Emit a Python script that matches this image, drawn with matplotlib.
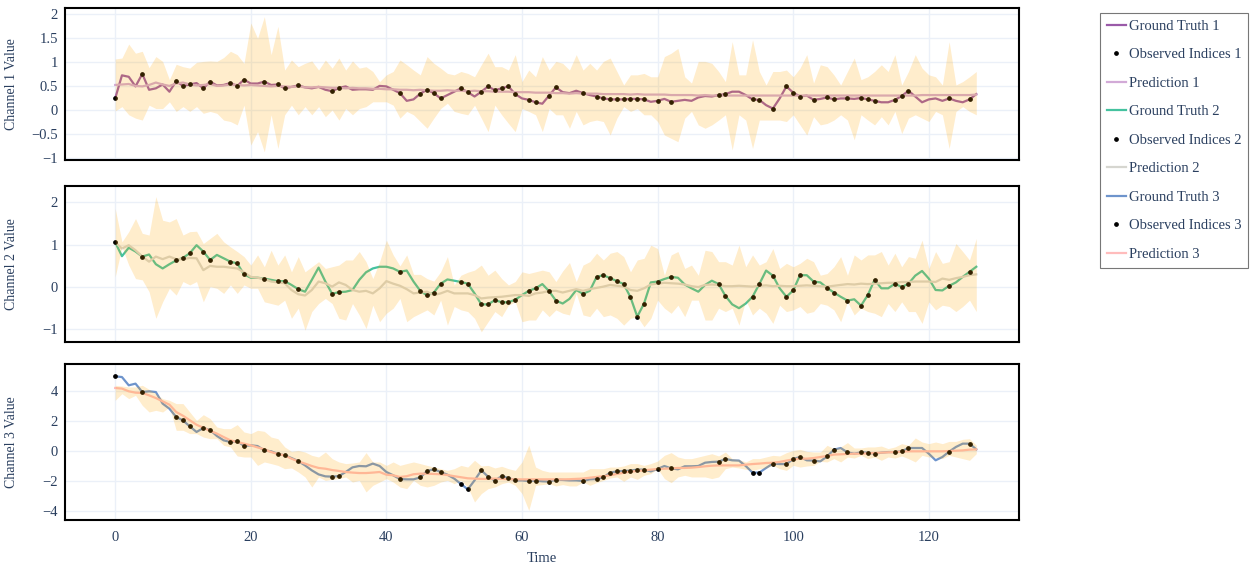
import numpy as np
import matplotlib
matplotlib.use("Agg")
from matplotlib import pyplot as plt
from matplotlib.ticker import FuncFormatter

plt.rcParams['font.family'] = ['Liberation Serif', 'DejaVu Serif']

time = np.arange(128)

# indices where the ground truth is observed (same for all channels)
observed_idx = [0, 4, 9, 10, 11, 13, 14, 17, 18, 19, 22, 24, 25, 27, 32, 33, 42, 45,
                46, 47, 48, 51, 52, 54, 55, 56, 57, 58, 59, 61, 62, 64, 65, 69, 71, 72,
                73, 74, 75, 76, 77, 78, 80, 82, 89, 90, 94, 95, 97, 99, 100, 101, 103,
                105, 106, 108, 110, 111, 112, 115, 116, 117, 123, 126]

# channel 1
gt1 = [0.24, 0.72, 0.69, 0.49, 0.75, 0.42, 0.45, 0.53, 0.38, 0.60,
       0.50, 0.53, 0.56, 0.45, 0.59, 0.51, 0.52, 0.56, 0.50, 0.63,
       0.55, 0.55, 0.59, 0.52, 0.53, 0.45, 0.48, 0.51, 0.47, 0.45,
       0.48, 0.42, 0.39, 0.46, 0.49, 0.42, 0.43, 0.43, 0.42, 0.50,
       0.49, 0.42, 0.35, 0.19, 0.22, 0.34, 0.42, 0.35, 0.24, 0.31,
       0.38, 0.45, 0.37, 0.28, 0.38, 0.49, 0.41, 0.45, 0.49, 0.33,
       0.24, 0.21, 0.16, 0.13, 0.30, 0.47, 0.37, 0.35, 0.40, 0.35,
       0.31, 0.28, 0.24, 0.22, 0.22, 0.22, 0.23, 0.23, 0.22, 0.17,
       0.19, 0.23, 0.17, 0.19, 0.21, 0.19, 0.26, 0.29, 0.28, 0.31,
       0.33, 0.38, 0.38, 0.31, 0.22, 0.21, 0.10, 0.03, 0.24, 0.49,
       0.36, 0.28, 0.30, 0.21, 0.23, 0.26, 0.22, 0.24, 0.24, 0.23,
       0.25, 0.22, 0.19, 0.16, 0.16, 0.21, 0.29, 0.40, 0.28, 0.16,
       0.22, 0.24, 0.19, 0.24, 0.19, 0.16, 0.22, 0.33]
pred1 = [0.52, 0.53, 0.54, 0.50, 0.49, 0.52, 0.57, 0.53, 0.50, 0.55,
         0.57, 0.53, 0.51, 0.52, 0.54, 0.50, 0.51, 0.53, 0.52, 0.51,
         0.52, 0.51, 0.50, 0.49, 0.50, 0.49, 0.48, 0.49, 0.47, 0.47,
         0.48, 0.47, 0.46, 0.46, 0.45, 0.46, 0.45, 0.45, 0.44, 0.44,
         0.43, 0.43, 0.42, 0.42, 0.41, 0.42, 0.41, 0.40, 0.40, 0.41,
         0.40, 0.40, 0.39, 0.40, 0.39, 0.39, 0.38, 0.38, 0.38, 0.37,
         0.37, 0.37, 0.36, 0.36, 0.36, 0.35, 0.35, 0.34, 0.35, 0.34,
         0.34, 0.34, 0.33, 0.33, 0.33, 0.33, 0.32, 0.33, 0.32, 0.32,
         0.32, 0.32, 0.31, 0.31, 0.31, 0.31, 0.30, 0.31, 0.30, 0.30,
         0.30, 0.30, 0.30, 0.30, 0.30, 0.30, 0.30, 0.30, 0.30, 0.30,
         0.30, 0.30, 0.30, 0.30, 0.30, 0.30, 0.30, 0.30, 0.30, 0.30,
         0.30, 0.30, 0.30, 0.30, 0.30, 0.30, 0.30, 0.30, 0.30, 0.31,
         0.31, 0.31, 0.31, 0.31, 0.31, 0.31, 0.31, 0.32]
upper1 = [1.06, 1.08, 1.37, 1.18, 1.22, 0.88, 1.11, 1.01, 0.63, 0.95,
          0.90, 0.87, 0.99, 1.01, 1.02, 1.01, 1.09, 1.22, 1.15, 0.97,
          1.81, 1.49, 1.94, 1.15, 1.74, 0.83, 1.04, 0.90, 0.97, 1.02,
          0.83, 1.04, 0.87, 1.08, 0.83, 1.02, 0.87, 0.90, 0.80, 0.59,
          0.73, 0.80, 1.04, 0.94, 0.83, 0.73, 1.11, 0.97, 0.87, 0.76,
          0.73, 0.80, 0.76, 0.69, 0.94, 1.18, 0.90, 0.90, 0.83, 1.15,
          0.59, 0.83, 0.69, 1.11, 0.83, 1.01, 0.97, 0.83, 1.15, 0.83,
          0.97, 0.83, 1.01, 1.08, 0.80, 0.52, 0.73, 0.73, 0.76, 0.69,
          0.69, 1.11, 1.18, 1.28, 0.69, 0.56, 1.01, 1.01, 0.97, 0.80,
          0.59, 1.42, 0.73, 0.73, 1.46, 0.80, 0.52, 0.80, 0.80, 0.83,
          0.69, 0.87, 1.15, 0.56, 0.94, 0.90, 0.73, 0.52, 0.80, 1.08,
          0.63, 0.69, 0.80, 0.94, 0.80, 1.15, 0.52, 0.80, 1.15, 0.87,
          0.73, 0.69, 0.52, 1.42, 0.52, 0.59, 0.69, 0.80]
lower1 = [-0.02, 0.07, -0.10, -0.17, -0.21, 0.10, 0.03, 0.03, 0.17, -0.03,
          0.07, -0.03, 0.07, -0.07, -0.03, -0.07, -0.21, -0.24, -0.31, 0.10,
          -0.73, -0.45, -0.87, -0.10, -0.80, -0.10, 0.10, -0.10, 0.07, -0.10,
          0.07, -0.14, 0.00, -0.21, 0.03, -0.10, 0.03, 0.07, 0.17, 0.17,
          0.17, 0.10, -0.17, -0.03, -0.10, -0.24, -0.38, -0.17, 0.03, 0.14,
          -0.03, -0.07, -0.10, 0.10, -0.17, -0.45, 0.10, -0.10, -0.28, -0.45,
          0.03, -0.03, -0.10, -0.45, 0.03, -0.10, -0.10, -0.38, -0.03, -0.31,
          -0.24, -0.21, -0.24, -0.52, -0.17, 0.07, -0.03, 0.03, -0.10, -0.10,
          -0.24, -0.52, -0.59, -0.66, -0.17, -0.03, -0.31, -0.38, -0.31, -0.21,
          -0.10, -0.83, -0.10, -0.21, -0.80, -0.21, -0.21, -0.21, -0.21, -0.24,
          -0.10, -0.31, -0.52, -0.14, -0.31, -0.28, -0.21, -0.10, -0.21, -0.62,
          -0.10, -0.21, -0.31, -0.14, -0.31, -0.03, -0.49, -0.17, -0.10, -0.17,
          -0.24, -0.03, -0.10, -0.80, -0.03, 0.07, -0.03, -0.10]

# channel 2
gt2 = [1.06, 0.73, 0.93, 0.84, 0.72, 0.77, 0.54, 0.44, 0.54, 0.63,
       0.69, 0.80, 0.99, 0.84, 0.64, 0.76, 0.68, 0.60, 0.56, 0.30,
       0.22, 0.22, 0.20, 0.17, 0.14, 0.14, 0.05, -0.05, -0.11, 0.17,
       0.46, 0.13, -0.16, -0.12, -0.11, -0.07, 0.17, 0.35, 0.44, 0.48,
       0.48, 0.44, 0.36, 0.39, 0.13, -0.09, -0.20, -0.13, 0.08, 0.18,
       0.15, 0.12, 0.08, -0.15, -0.41, -0.41, -0.31, -0.36, -0.36, -0.30,
       -0.19, -0.09, -0.03, 0.07, -0.10, -0.32, -0.39, -0.28, -0.07, -0.16,
       -0.09, 0.24, 0.28, 0.21, 0.14, 0.07, -0.24, -0.70, -0.39, 0.11,
       0.13, 0.19, 0.24, 0.22, 0.06, -0.03, -0.11, 0.05, 0.15, 0.07,
       -0.21, -0.41, -0.50, -0.39, -0.23, 0.07, 0.39, 0.27, -0.03, -0.23,
       -0.08, 0.28, 0.28, 0.13, 0.11, -0.02, -0.13, -0.23, -0.32, -0.29,
       -0.44, -0.19, 0.17, -0.03, -0.03, 0.08, 0.00, 0.08, 0.27, 0.38,
       0.20, -0.07, -0.08, 0.03, 0.11, 0.24, 0.36, 0.48]
pred2 = [1.06, 0.91, 0.99, 0.87, 0.72, 0.60, 0.72, 0.66, 0.72, 0.66,
         0.66, 0.69, 0.68, 0.40, 0.50, 0.48, 0.48, 0.46, 0.44, 0.35,
         0.24, 0.22, 0.19, 0.13, 0.11, 0.09, -0.07, -0.17, -0.20, -0.07,
         0.13, 0.09, 0.01, 0.11, 0.05, -0.07, -0.11, -0.09, -0.15, -0.03,
         0.14, 0.08, 0.03, -0.05, -0.15, -0.13, -0.11, -0.19, -0.15, -0.09,
         -0.15, -0.15, -0.15, -0.19, -0.27, -0.25, -0.24, -0.23, -0.21, -0.19,
         -0.19, -0.21, -0.15, -0.13, -0.09, -0.09, -0.13, -0.09, -0.05, -0.09,
         -0.05, -0.02, 0.01, 0.05, 0.03, 0.01, -0.07, -0.09, -0.03, 0.06,
         0.08, 0.10, 0.09, 0.08, 0.06, 0.02, 0.00, 0.05, 0.06, 0.05,
         0.02, 0.02, 0.03, 0.02, 0.01, 0.03, 0.04, 0.02, 0.03, 0.02,
         0.02, 0.03, 0.04, 0.03, 0.02, 0.01, 0.03, 0.05, 0.07, 0.06,
         0.08, 0.07, 0.08, 0.09, 0.10, 0.10, 0.12, 0.12, 0.13, 0.13,
         0.13, 0.12, 0.20, 0.17, 0.21, 0.24, 0.28, 0.30]
upper2 = [1.86, 1.07, 1.31, 1.62, 1.27, 1.23, 2.14, 1.58, 1.54, 1.62,
          1.23, 1.31, 1.32, 1.03, 1.15, 1.27, 1.07, 0.95, 0.84, 0.72,
          0.52, 0.76, 0.48, 0.87, 0.52, 0.76, 0.36, 0.72, 0.36, 0.48,
          0.60, 0.44, 0.48, 0.52, 0.64, 0.64, 0.84, 0.60, 0.20, 0.60,
          1.11, 0.76, 0.50, 0.76, 0.30, 0.30, 0.20, 0.14, 0.36, 0.72,
          0.05, 0.28, 0.35, 0.40, 0.52, 0.28, 0.40, 0.20, 0.05, 0.13,
          0.36, 0.32, 0.36, 0.40, 0.36, 0.13, 0.38, 0.58, 0.13, 0.52,
          0.60, 0.80, 0.64, 0.80, 0.84, 0.72, 0.36, 0.64, 0.68, 0.99,
          0.91, 0.28, 0.76, 0.84, 0.44, 0.52, 0.28, 0.87, 0.84, 0.60,
          0.60, 0.52, 0.99, 0.48, 0.76, 0.52, 0.60, 0.91, 0.44, 0.56,
          0.48, 0.56, 0.68, 0.60, 0.28, 0.32, 0.48, 0.72, 0.28, 0.76,
          0.64, 0.76, 0.76, 0.84, 0.52, 0.80, 0.48, 0.72, 0.68, 1.11,
          0.44, 0.84, 0.56, 0.60, 1.03, 0.84, 0.64, 1.15]
lower2 = [0.24, 0.95, 0.52, 0.20, 0.17, -0.11, -0.74, -0.35, -0.03, -0.19,
          0.13, 0.05, 0.13, -0.35, 0.01, -0.03, -0.15, 0.05, -0.15, 0.05,
          -0.03, -0.03, -0.35, -0.39, -0.43, -0.31, -0.74, -0.50, -1.02, -0.58,
          -0.39, -0.27, -0.39, -0.74, -0.78, -0.39, -0.66, -0.98, -0.43, -0.82,
          -0.62, -0.50, -0.27, -0.82, -0.70, -0.62, -0.54, -0.66, -0.31, -0.90,
          -0.46, -0.54, -0.58, -0.74, -1.06, -0.82, -0.58, -0.70, -0.43, -0.35,
          -0.82, -0.78, -0.78, -0.54, -0.70, -0.54, -0.62, -0.66, -0.15, -0.66,
          -0.70, -0.50, -0.70, -0.66, -0.74, -0.90, -0.74, -0.70, -0.94, -0.74,
          -0.31, -0.50, -0.62, -0.43, -0.70, -0.31, -0.31, -0.78, -0.78, -0.50,
          -0.58, -0.50, -0.90, -0.31, -0.66, -0.50, -0.62, -0.86, -0.43, -0.58,
          -0.54, -0.46, -0.62, -0.58, -0.39, -0.43, -0.54, -0.82, -0.35, -0.66,
          -0.50, -0.58, -0.62, -0.70, -0.39, -0.58, -0.35, -0.58, -0.58, -0.86,
          -0.35, -0.54, -0.43, -0.46, -0.58, -0.46, -0.31, -0.58]

# channel 3
gt3 = [4.98, 4.93, 4.38, 4.49, 3.93, 3.98, 3.93, 3.16, 2.82, 2.27,
       2.04, 1.64, 1.27, 1.53, 1.40, 1.00, 0.71, 0.60, 0.67, 0.33,
       0.38, 0.33, 0.04, -0.02, -0.20, -0.29, -0.47, -0.67, -0.96, -1.29,
       -1.56, -1.69, -1.71, -1.67, -1.40, -1.09, -1.00, -1.02, -0.84, -1.00,
       -1.40, -1.62, -1.87, -1.89, -1.89, -1.76, -1.33, -1.22, -1.40, -1.58,
       -1.84, -2.20, -2.56, -1.96, -1.29, -1.71, -1.98, -1.67, -1.80, -1.96,
       -1.96, -2.00, -1.98, -2.02, -2.04, -1.91, -1.93, -1.96, -1.96, -2.00,
       -1.89, -1.87, -1.76, -1.44, -1.36, -1.33, -1.31, -1.24, -1.24, -1.36,
       -1.20, -1.00, -1.16, -1.22, -1.02, -1.02, -1.00, -0.78, -0.73, -0.71,
       -0.53, -0.62, -0.64, -1.00, -1.44, -1.44, -1.13, -0.84, -0.87, -0.87,
       -0.53, -0.40, -0.62, -0.64, -0.69, -0.36, 0.09, 0.20, -0.09, -0.18,
       -0.09, -0.11, -0.18, -0.11, -0.07, -0.07, -0.02, 0.20, 0.20, 0.20,
       -0.18, -0.62, -0.40, -0.04, 0.27, 0.49, 0.49, 0.11]
pred3 = [4.20, 4.16, 3.98, 3.89, 3.87, 3.71, 3.53, 3.31, 3.09, 2.60,
         2.35, 2.05, 1.75, 1.55, 1.35, 1.16, 0.93, 0.71, 0.60, 0.49,
         0.38, 0.24, 0.11, -0.07, -0.20, -0.29, -0.51, -0.69, -0.84, -1.00,
         -1.13, -1.18, -1.27, -1.33, -1.40, -1.44, -1.47, -1.47, -1.44, -1.40,
         -1.58, -1.62, -1.73, -1.68, -1.55, -1.51, -1.51, -1.53, -1.55, -1.60,
         -1.68, -1.75, -1.82, -1.84, -1.86, -1.86, -1.84, -1.86, -1.88, -1.89,
         -1.89, -1.89, -1.89, -1.89, -1.89, -1.89, -1.89, -1.88, -1.86, -1.84,
         -1.78, -1.73, -1.68, -1.62, -1.53, -1.45, -1.38, -1.33, -1.29, -1.24,
         -1.20, -1.18, -1.16, -1.13, -1.13, -1.11, -1.07, -1.02, -0.98, -0.96,
         -0.96, -0.96, -0.96, -0.91, -0.87, -0.84, -0.80, -0.78, -0.73, -0.64,
         -0.56, -0.51, -0.51, -0.47, -0.40, -0.33, -0.24, -0.22, -0.20, -0.18,
         -0.18, -0.16, -0.13, -0.11, -0.09, -0.07, -0.04, -0.02, -0.02, -0.02,
         -0.02, -0.02, -0.02, 0.00, 0.02, 0.04, 0.09, 0.11]
upper3 = [4.38, 4.33, 4.27, 4.27, 4.38, 4.11, 3.82, 3.49, 3.38, 3.16,
          3.16, 2.60, 2.04, 2.42, 2.16, 1.60, 1.49, 1.49, 1.76, 1.27,
          1.16, 1.38, 1.31, 0.93, 0.82, 0.27, -0.02, 0.04, -0.07, -0.29,
          -0.40, -0.07, -0.51, -0.73, -0.84, -0.80, -0.73, -0.11, -0.73, -0.73,
          -0.96, -0.73, -0.96, -0.84, -0.73, -0.84, -0.96, -1.07, -1.18, -1.29,
          -1.18, -0.96, -1.07, -0.62, -1.00, -0.96, -1.13, -1.02, -1.18, -1.29,
          -0.73, 0.40, -1.07, -1.29, -1.40, -1.40, -1.40, -1.40, -1.40, -1.40,
          -1.18, -1.18, -1.18, -1.07, -1.07, -1.00, -0.84, -0.84, -0.96, -0.84,
          -0.67, -0.29, -0.11, -0.40, -0.51, -0.51, -0.40, -0.29, -0.18, -0.33,
          -0.07, -0.51, -0.56, -0.73, -0.51, -0.51, -0.40, -0.29, -0.33, -0.11,
          0.04, 0.11, -0.02, -0.07, -0.07, 0.38, 0.16, 0.27, 0.56, 0.20,
          0.20, 0.27, 0.27, 0.33, 0.16, 0.27, 0.49, 0.38, 0.87, 0.60,
          0.49, 0.60, 0.49, 0.64, 0.64, 0.78, 0.82, 0.38]
lower3 = [3.38, 3.82, 3.49, 3.71, 3.04, 2.60, 2.71, 2.60, 2.93, 1.38,
          1.38, 1.16, 1.16, 0.93, 0.82, 0.82, 0.38, 0.27, -0.33, -0.40,
          -0.40, -0.96, -0.73, -0.84, -0.96, -1.18, -1.13, -1.40, -1.73, -2.40,
          -1.73, -1.96, -1.89, -1.84, -1.73, -2.07, -1.96, -2.73, -2.29, -2.07,
          -1.84, -2.07, -2.40, -2.51, -1.96, -2.29, -2.40, -2.29, -2.07, -1.96,
          -2.18, -1.96, -2.40, -3.40, -2.84, -2.51, -2.40, -2.18, -2.07, -2.29,
          -2.84, -3.96, -2.29, -2.24, -2.18, -2.33, -2.24, -2.33, -2.33, -2.07,
          -2.29, -2.11, -1.96, -1.80, -1.73, -2.02, -1.73, -1.89, -1.62, -1.51,
          -1.18, -1.84, -2.11, -1.73, -1.62, -1.73, -1.73, -1.73, -1.84, -1.73,
          -1.18, -1.07, -1.13, -1.22, -1.29, -1.18, -1.13, -0.96, -1.18, -1.29,
          -0.96, -1.07, -1.00, -0.96, -0.69, -0.73, -0.51, -0.73, -0.40, -0.47,
          -0.29, -0.51, -0.40, -0.62, -0.40, -0.47, -0.33, -0.51, -0.73, -0.29,
          -0.40, -0.40, -0.51, -0.29, -0.40, -0.51, -0.62, -0.18]

channels = [
    (gt1, pred1, upper1, lower1),
    (gt2, pred2, upper2, lower2),
    (gt3, pred3, upper3, lower3),
]
gt_colors = ['#9a5aa8', '#45c29f', '#6e94cc']
pred_colors = ['#d2aad7', '#d6d6d0', '#ffbcbc']
ylims = [(-1.04, 2.12), (-1.30, 2.39), (-4.6, 5.8)]
yticks = [[-1, -0.5, 0, 0.5, 1, 1.5, 2], [-1, 0, 1, 2], [-4, -2, 0, 2, 4]]

text_color = '#2a3f5f'
W, H = 1253, 568
fig = plt.figure(figsize=(W / 100, H / 100), dpi=100)

# axes boxes in pixels: (left, top, right, bottom)
boxes = [(65, 8, 1019, 160), (65, 186, 1019, 342), (65, 364, 1019, 520)]

fmt = FuncFormatter(lambda v, p: ('%g' % v).replace('-', '\u2212'))

handles = []
labels = []
for i, (gt, pred, up, lo) in enumerate(channels):
    l, t, r, b = boxes[i]
    ax = fig.add_axes([l / W, 1 - b / H, (r - l) / W, (b - t) / H])
    gt = np.array(gt)

    h_gt, = ax.plot(time, gt, color=gt_colors[i], lw=1.6, zorder=2)
    h_obs, = ax.plot(time[observed_idx], gt[observed_idx], 'o', color='black',
                     ms=2.4, ls='none', zorder=3)
    h_pr, = ax.plot(time, pred, color=pred_colors[i], lw=1.6, zorder=2.5)
    # uncertainty band is drawn on top, semi-transparent
    ax.fill_between(time, lo, up, color=(1.0, 0.647, 0.0), alpha=0.2, lw=0, zorder=4)

    handles += [h_gt, h_obs, h_pr]
    labels += ['Ground Truth %d' % (i + 1), 'Observed Indices %d' % (i + 1),
               'Prediction %d' % (i + 1)]

    ax.set_xlim(-7.4, 133.3)
    ax.set_ylim(*ylims[i])
    ax.set_yticks(yticks[i])
    ax.yaxis.set_major_formatter(fmt)
    ax.set_xticks(range(0, 121, 20))
    ax.grid(True, color='#ebf0f8', lw=1, zorder=0)
    ax.set_axisbelow(True)
    for s in ax.spines.values():
        s.set_color('black')
        s.set_linewidth(1.5)
    ax.tick_params(length=0, labelsize=10.5, labelcolor=text_color, pad=5)
    ax.set_ylabel('Channel %d Value' % (i + 1), fontsize=10, color=text_color)
    ax.yaxis.set_label_coords(-47 / (r - l), 0.5)
    if i < 2:
        ax.tick_params(labelbottom=False)
    else:
        ax.tick_params(axis='x', pad=8)
        ax.set_xlabel('Time', fontsize=10.5, color=text_color, labelpad=6)

leg = fig.legend(handles, labels, loc='upper left',
                 bbox_to_anchor=(1100 / W, 1 - 13 / H), fontsize=10.5,
                 frameon=True, fancybox=False, edgecolor='#555555',
                 labelspacing=1.05, handlelength=1.3, handletextpad=0.25,
                 borderpad=0.45, borderaxespad=0)
leg.get_frame().set_linewidth(0.8)
for txt in leg.get_texts():
    txt.set_color(text_color)

fig.savefig('out.png', dpi=100)
